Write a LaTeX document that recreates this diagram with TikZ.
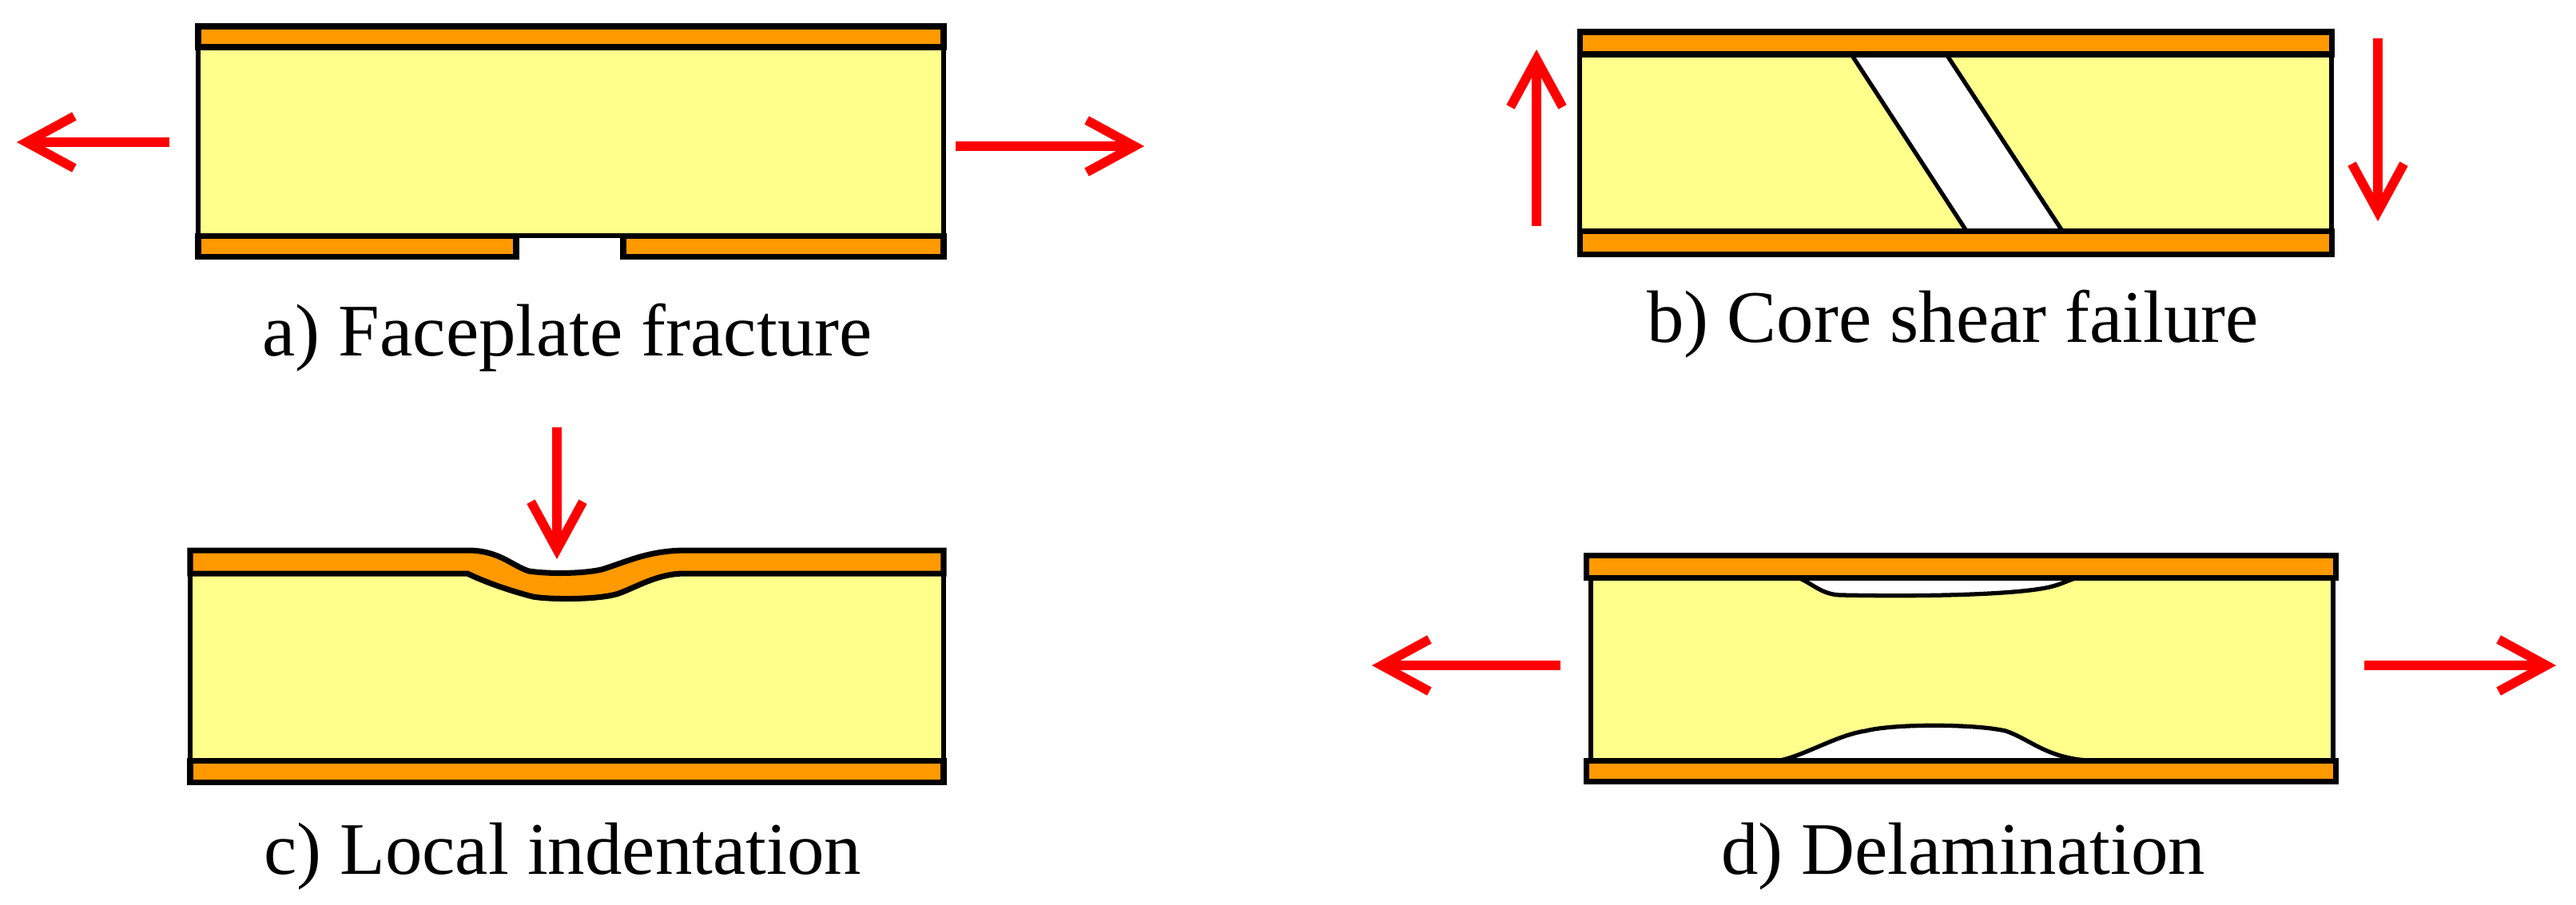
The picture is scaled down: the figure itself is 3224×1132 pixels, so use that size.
\documentclass[tikz,border=0pt]{standalone}
\usepackage{fontspec}
\setmainfont{Liberation Serif}
\usetikzlibrary{arrows.meta}
\definecolor{faceorange}{RGB}{255,153,0}
\definecolor{coreyellow}{RGB}{255,255,140}
\tikzset{
  plate/.style={draw=black,fill=faceorange,line width=2pt},
  core/.style={draw=black,fill=coreyellow,line width=1.6pt},
  crack/.style={draw=black,fill=white,line width=1.5pt},
  force/.style={color=red,line width=3.3pt,-{Straight Barb[length=17pt,width=18.5pt]}},
  caption/.style={anchor=base,font=\fontsize{26.4}{30}\selectfont}
}

\begin{document}
\begin{tikzpicture}[x=0.01cm,y=-0.01cm]
  \useasboundingbox (0,0) rectangle (3224,1132);

  % a) faceplate
  \draw[core] (248,59) rectangle (1181,295);
  \draw[plate] (248,33) rectangle (1181,59);
  \draw[plate] (248,295) rectangle (646,321);
  \draw[plate] (780,295) rectangle (1181,321);
  \node[caption] (capa) at (710,445) {a) Faceplate fracture};
  \coordinate (a-l1) at (212,178);
  \coordinate (a-l2) at (21,178);
  \coordinate (a-r1) at (1196,183);
  \coordinate (a-r2) at (1432,183);

  % b) shear
  \draw[core] (1977,68) rectangle (2918,289);
  \draw[crack] (2317,68) -- (2461,289) -- (2581,289) -- (2436,68) -- cycle;
  \draw[plate] (1977,40) rectangle (2918,68);
  \draw[plate] (1977,289) rectangle (2918,318);
  \node[caption] (capb) at (2444,428) {b) Core shear failure};
  \coordinate (b-l1) at (1923,283);
  \coordinate (b-l2) at (1923,62);
  \coordinate (b-r1) at (2976,48);
  \coordinate (b-r2) at (2976,277);

  % c) indentation
  \draw[core] (238,718) rectangle (1181,952);
  \draw[plate] (238,689) -- (585,689)
    .. controls (625,689) and (640,708) .. (662,715)
    .. controls (690,719) and (730,718) .. (753,713)
    .. controls (785,703) and (810,690) .. (855,689)
    -- (1181,689) -- (1181,718) -- (857,718)
    .. controls (825,718) and (800,733) .. (777,742)
    .. controls (755,751) and (690,751) .. (667,747)
    .. controls (640,740) and (610,730) .. (585,718)
    -- (238,718) -- cycle;
  \draw[plate] (238,952) rectangle (1181,979);
  \node[caption] (capc) at (704,1094) {c) Local indentation};
  \coordinate (c-t1) at (697,535);
  \coordinate (c-t2) at (697,700);

  % d) delamination
  \draw[core] (1991,723) rectangle (2920,952);
  \draw[crack] (2250,723)
    .. controls (2268,730) and (2280,745) .. (2305,745)
    .. controls (2400,747) and (2520,745) .. (2565,735)
    .. controls (2585,730) and (2590,725) .. (2602,723) -- cycle;
  \draw[crack] (2228,952)
    .. controls (2260,945) and (2300,920) .. (2335,915)
    .. controls (2370,906) and (2470,906) .. (2510,915)
    .. controls (2540,925) and (2560,948) .. (2612,952) -- cycle;
  \draw[plate] (1985,695) rectangle (2923,723);
  \draw[plate] (1985,952) rectangle (2923,978);
  \node[caption] (capd) at (2457,1094) {d) Delamination};
  \coordinate (d-l1) at (1953,833);
  \coordinate (d-l2) at (1717,833);
  \coordinate (d-r1) at (2959,833);
  \coordinate (d-r2) at (3199,833);

  \path[force]
    (a-l1) edge (a-l2)
    (a-r1) edge (a-r2)
    (b-l1) edge (b-l2)
    (b-r1) edge (b-r2)
    (c-t1) edge (c-t2)
    (d-l1) edge (d-l2)
    (d-r1) edge (d-r2);
\end{tikzpicture}
\end{document}
